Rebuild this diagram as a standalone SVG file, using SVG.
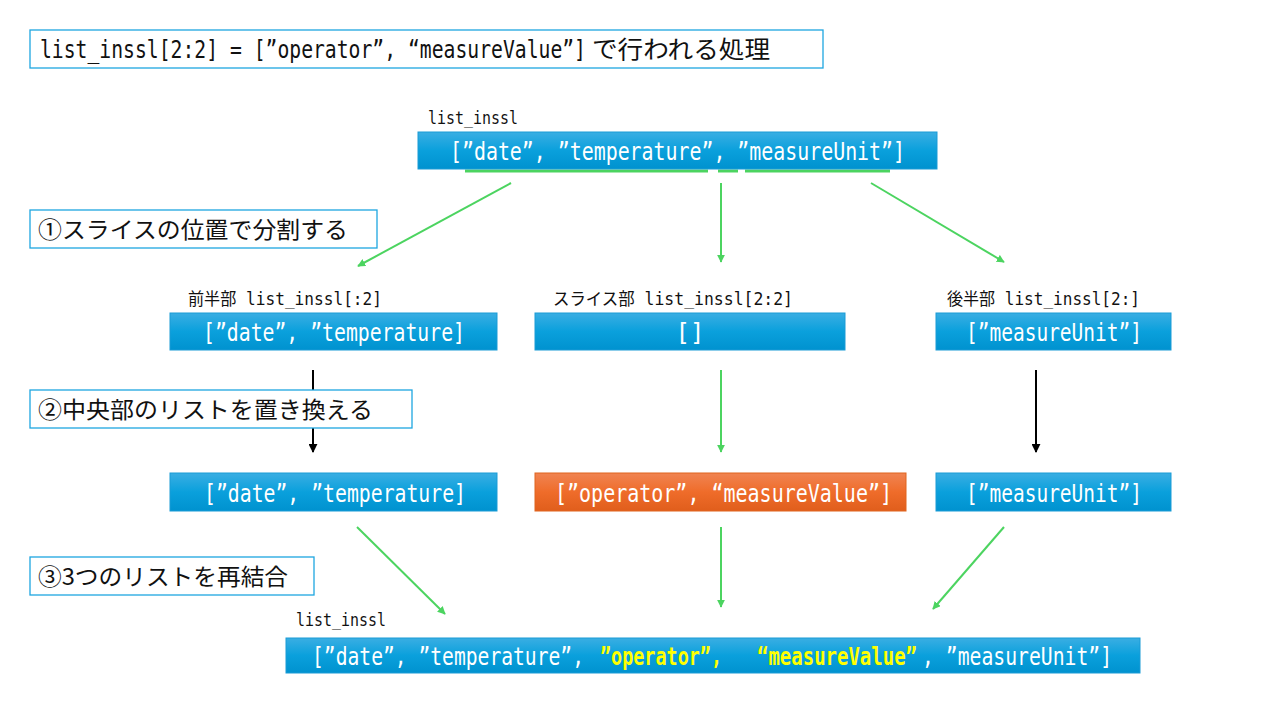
<svg xmlns="http://www.w3.org/2000/svg" width="1280" height="720" viewBox="0 0 1280 720">
<defs>
<linearGradient id="gBlue" x1="0" y1="0" x2="0" y2="1"><stop offset="0" stop-color="#3aaee3"/><stop offset="0.5" stop-color="#0aa0dc"/><stop offset="1" stop-color="#0092cf"/></linearGradient>
<linearGradient id="gOrange" x1="0" y1="0" x2="0" y2="1"><stop offset="0" stop-color="#f08452"/><stop offset="0.5" stop-color="#ef6c2a"/><stop offset="1" stop-color="#e05e1c"/></linearGradient>
<marker id="ag" viewBox="0 0 10 10" refX="9" refY="5" markerWidth="8" markerHeight="8" markerUnits="userSpaceOnUse" orient="auto"><path d="M0,0 L10,5 L0,10 z" fill="#4cd460"/></marker>
<marker id="ak" viewBox="0 0 10 10" refX="9" refY="5" markerWidth="9" markerHeight="9" markerUnits="userSpaceOnUse" orient="auto"><path d="M0,0 L10,5 L0,10 z" fill="#000"/></marker>
</defs>
<style>
text{font-family:"DejaVu Sans Mono","Noto Sans CJK JP",monospace;}
.jp{font-family:"Noto Sans CJK JP","Liberation Sans",sans-serif;}
.step{fill:#fff;stroke:#1ea6e0;stroke-width:1.3;}
.blue{fill:url(#gBlue);stroke:#1a9bd6;stroke-width:1;}
.orange{fill:url(#gOrange);stroke:#e0641f;stroke-width:1;}
.bt{fill:#fff;font-size:24px;}
.yt{fill:#ffff00;font-weight:bold;}
.lbl{fill:#111;font-size:17px;}
.st{fill:#111;font-size:23px;font-family:"Noto Sans CJK JP","Liberation Sans",sans-serif;}
.g{stroke:#4cd460;stroke-width:2;fill:none;}
.k{stroke:#000;stroke-width:2;fill:none;}
.ul{stroke:#4cd460;stroke-width:3;}
</style>

<g id="connectors">
<line class="ul" x1="465" y1="171" x2="708" y2="171"/>
<line class="ul" x1="718" y1="171" x2="738" y2="171"/>
<line class="ul" x1="745" y1="171" x2="890" y2="171"/>
<line class="g" x1="511" y1="183" x2="358" y2="266" marker-end="url(#ag)"/>
<line class="g" x1="721" y1="183" x2="721" y2="262" marker-end="url(#ag)"/>
<line class="g" x1="871" y1="183" x2="1004" y2="262" marker-end="url(#ag)"/>
<line class="k" x1="313" y1="370" x2="313" y2="452" marker-end="url(#ak)"/>
<line class="g" x1="721" y1="370" x2="721" y2="452" marker-end="url(#ag)"/>
<line class="k" x1="1036" y1="370" x2="1036" y2="452" marker-end="url(#ak)"/>
<line class="g" x1="357" y1="527" x2="445" y2="614" marker-end="url(#ag)"/>
<line class="g" x1="721" y1="527" x2="721" y2="607" marker-end="url(#ag)"/>
<line class="g" x1="1004" y1="527" x2="933" y2="609" marker-end="url(#ag)"/>
</g>

<g id="title">
<rect class="step" x="30" y="30" width="793" height="38"/>
<text y="58" font-size="24" fill="#111"><tspan x="40" textLength="546" lengthAdjust="spacingAndGlyphs">list_inssl[2:2] = [”operator”,  “measureValue”]</tspan><tspan class="jp" x="592" textLength="178" lengthAdjust="spacingAndGlyphs">で行われる処理</tspan></text>
</g>

<g id="step1">
<rect class="step" x="30" y="210" width="347" height="38"/>
<text class="st" x="38" y="238" textLength="310" lengthAdjust="spacingAndGlyphs">①スライスの位置で分割する</text>
</g>
<g id="step2">
<rect class="step" x="30" y="390" width="382" height="38"/>
<text class="st" x="38" y="418" textLength="335" lengthAdjust="spacingAndGlyphs">②中央部のリストを置き換える</text>
</g>
<g id="step3">
<rect class="step" x="30" y="557" width="284" height="38"/>
<text class="st" x="38" y="585" textLength="250" lengthAdjust="spacingAndGlyphs">③3つのリストを再結合</text>
</g>

<g id="top-list">
<text class="lbl" x="428" y="124" textLength="90" lengthAdjust="spacingAndGlyphs">list_inssl</text>
<rect class="blue" x="418" y="132" width="519" height="37"/>
<text class="bt" x="450" y="160" textLength="455" lengthAdjust="spacingAndGlyphs">[”date”, ”temperature”, ”measureUnit”]</text>
</g>

<g id="front">
<text class="lbl" x="188" y="305" textLength="194" lengthAdjust="spacingAndGlyphs">前半部 list_inssl[:2]</text>
<rect class="blue" x="170" y="313" width="327" height="37"/>
<text class="bt" x="203" y="341" textLength="262" lengthAdjust="spacingAndGlyphs">[”date”, ”temperature]</text>
</g>
<g id="slice">
<text class="lbl" x="553" y="305" textLength="240" lengthAdjust="spacingAndGlyphs">スライス部 list_inssl[2:2]</text>
<rect class="blue" x="535" y="313" width="310" height="37"/>
<text class="bt" x="690" y="341" text-anchor="middle">[]</text>
</g>
<g id="back">
<text class="lbl" x="947" y="305" textLength="193" lengthAdjust="spacingAndGlyphs">後半部 list_inssl[2:]</text>
<rect class="blue" x="936" y="313" width="235" height="37"/>
<text class="bt" x="966" y="341" textLength="176" lengthAdjust="spacingAndGlyphs">[”measureUnit”]</text>
</g>

<g id="front2">
<rect class="blue" x="170" y="473" width="327" height="38"/>
<text class="bt" x="204" y="502" textLength="262" lengthAdjust="spacingAndGlyphs">[”date”, ”temperature]</text>
</g>
<g id="slice2">
<rect class="orange" x="535" y="473" width="371" height="38"/>
<text class="bt" x="555" y="502" textLength="337" lengthAdjust="spacingAndGlyphs">[”operator”, “measureValue”]</text>
</g>
<g id="back2">
<rect class="blue" x="936" y="473" width="235" height="38"/>
<text class="bt" x="966" y="502" textLength="176" lengthAdjust="spacingAndGlyphs">[”measureUnit”]</text>
</g>

<g id="result">
<text class="lbl" x="296" y="626" textLength="90" lengthAdjust="spacingAndGlyphs">list_inssl</text>
<rect class="blue" x="286" y="638" width="854" height="35"/>
<text class="bt" y="665"><tspan x="312" textLength="272" lengthAdjust="spacingAndGlyphs">[”date”, ”temperature”,</tspan><tspan class="yt" x="600" textLength="122" lengthAdjust="spacingAndGlyphs">”operator”,</tspan><tspan class="yt" x="757" textLength="160" lengthAdjust="spacingAndGlyphs">“measureValue”</tspan><tspan x="922" textLength="190" lengthAdjust="spacingAndGlyphs">, ”measureUnit”]</tspan></text>
</g>
</svg>
